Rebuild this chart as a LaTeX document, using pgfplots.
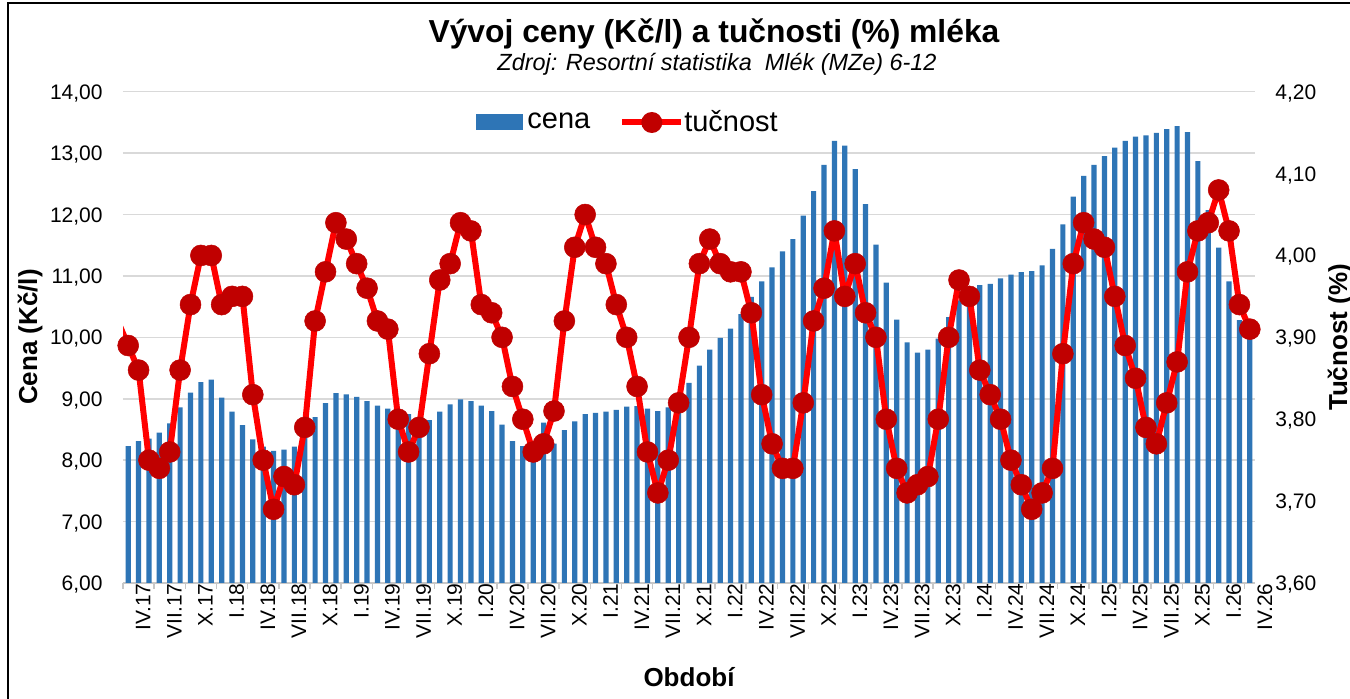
\documentclass[border=0pt]{standalone}
\usepackage{fontspec}
\setmainfont{Liberation Sans}
\usepackage{pgfplots}
\pgfplotsset{compat=1.18}
\usepackage{pgfplotstable}
\newlength\px
\setlength\px{0.5pt}
\definecolor{barblue}{RGB}{46,117,182}
\definecolor{mkred}{RGB}{192,0,0}
\definecolor{lnred}{RGB}{255,0,0}
\definecolor{gridgray}{RGB}{217,217,217}
\definecolor{axgray}{RGB}{200,200,200}

\pgfplotstableread{
x y
1 8.23
2 8.31
3 8.35
4 8.45
5 8.60
6 8.86
7 9.10
8 9.27
9 9.31
10 9.02
11 8.79
12 8.57
13 8.34
14 8.22
15 8.15
16 8.17
17 8.22
18 8.45
19 8.70
20 8.93
21 9.09
22 9.07
23 9.03
24 8.96
25 8.89
26 8.84
27 8.80
28 8.75
29 8.70
30 8.65
31 8.79
32 8.91
33 8.99
34 8.96
35 8.89
36 8.80
37 8.58
38 8.31
39 8.23
40 8.18
41 8.61
42 8.27
43 8.49
44 8.63
45 8.75
46 8.77
47 8.79
48 8.82
49 8.87
50 8.88
51 8.84
52 8.80
53 8.86
54 9.00
55 9.26
56 9.54
57 9.80
58 9.99
59 10.14
60 10.38
61 10.66
62 10.91
63 11.14
64 11.40
65 11.60
66 11.98
67 12.38
68 12.81
69 13.20
70 13.12
71 12.74
72 12.17
73 11.51
74 10.89
75 10.29
76 9.92
77 9.75
78 9.80
79 9.98
80 10.33
81 10.60
82 10.78
83 10.85
84 10.87
85 10.96
86 11.02
87 11.06
88 11.08
89 11.17
90 11.44
91 11.84
92 12.29
93 12.63
94 12.81
95 12.95
96 13.09
97 13.20
98 13.27
99 13.29
100 13.33
101 13.39
102 13.44
103 13.34
104 12.87
105 12.07
106 11.46
107 10.91
108 10.28
109 10.01
}\cena

\pgfplotstableread{
x y
0 3.92
1 3.89
2 3.86
3 3.75
4 3.74
5 3.76
6 3.86
7 3.94
8 4.00
9 4.00
10 3.94
11 3.95
12 3.95
13 3.83
14 3.75
15 3.69
16 3.73
17 3.72
18 3.79
19 3.92
20 3.98
21 4.04
22 4.02
23 3.99
24 3.96
25 3.92
26 3.91
27 3.80
28 3.76
29 3.79
30 3.88
31 3.97
32 3.99
33 4.04
34 4.03
35 3.94
36 3.93
37 3.90
38 3.84
39 3.80
40 3.76
41 3.77
42 3.81
43 3.92
44 4.01
45 4.05
46 4.01
47 3.99
48 3.94
49 3.90
50 3.84
51 3.76
52 3.71
53 3.75
54 3.82
55 3.90
56 3.99
57 4.02
58 3.99
59 3.98
60 3.98
61 3.93
62 3.83
63 3.77
64 3.74
65 3.74
66 3.82
67 3.92
68 3.96
69 4.03
70 3.95
71 3.99
72 3.93
73 3.90
74 3.80
75 3.74
76 3.71
77 3.72
78 3.73
79 3.80
80 3.90
81 3.97
82 3.95
83 3.86
84 3.83
85 3.80
86 3.75
87 3.72
88 3.69
89 3.71
90 3.74
91 3.88
92 3.99
93 4.04
94 4.02
95 4.01
96 3.95
97 3.89
98 3.85
99 3.79
100 3.77
101 3.82
102 3.87
103 3.98
104 4.03
105 4.04
106 4.08
107 4.03
108 3.94
109 3.91
}\tucnost

\begin{document}
\begin{tikzpicture}
\useasboundingbox (0,0) rectangle (1350\px,699\px);
\fill[white] (0,0) rectangle (1350\px,699\px);
\draw[black, line width=1.5\px] (8\px,-10\px) -- (8\px,696\px) -- (1360\px,696\px);

\node[anchor=base, font=\fontsize{15.9}{15.9}\selectfont\bfseries] at (714\px,656\px) {Vývoj ceny (Kč/l) a tučnosti (\%) mléka};
\node[anchor=base, font=\fontsize{11.7}{11.7}\selectfont\itshape] at (717\px,628\px) {Zdroj: Resortní statistika~ Mlék (MZe) 6-12};

\node[rotate=90, anchor=base, font=\fontsize{13}{13}\selectfont\bfseries] at (37\px,362\px) {Cena (Kč/l)};
\node[rotate=90, anchor=base, font=\fontsize{13}{13}\selectfont\bfseries] at (1347\px,361.5\px) {Tučnost (\%)};
\node[anchor=base, font=\fontsize{13}{13}\selectfont\bfseries] at (689\px,12\px) {Období};

\begin{axis}[
  at={(123\px,116\px)}, anchor=south west,
  scale only axis, width=1132\px, height=491.3\px,
  xmin=0.5, xmax=109.5, ymin=6, ymax=14,
  axis x line*=bottom, axis y line*=left,
  x axis line style={draw=axgray, line width=1.5\px, -},
  y axis line style={draw=none},
  ymajorgrids, grid style={gridgray, line width=1.5\px},
  ytick={6,7,8,9,10,11,12,13,14},
  major tick length=0pt,
  tick align=outside,
  minor xtick={0.5,3.5,...,108.5},
  minor tick length=6\px,
  minor x tick style={draw=axgray, line width=1.5\px},
  /pgf/number format/assume math mode=true,
  yticklabel style={anchor=base east, inner sep=0pt, xshift=-20\px, yshift=-7.5\px,
    font=\fontsize{10.5}{10.5}\selectfont,
    /pgf/number format/.cd, fixed, fixed zerofill, precision=2, use comma, 1000 sep={}},
  xtick={1,4,...,109},
  xticklabels={IV.17,VII.17,X.17,I.18,IV.18,VII.18,X.18,I.19,IV.19,VII.19,X.19,I.20,IV.20,VII.20,X.20,I.21,IV.21,VII.21,X.21,I.22,IV.22,VII.22,X.22,I.23,IV.23,VII.23,X.23,I.24,IV.24,VII.24,X.24,I.25,IV.25,VII.25,X.25,I.26,IV.26},
  xticklabel style={rotate=90, anchor=east, inner sep=0pt, yshift=-15\px,
    font=\fontsize{10.5}{10.5}\selectfont},
]
\addplot[ybar, bar width=5.2\px, fill=barblue, draw=none] table[x=x,y=y]{\cena};
\end{axis}

\begin{axis}[
  at={(123\px,116\px)}, anchor=south west,
  scale only axis, width=1132\px, height=491.3\px,
  xmin=0.5, xmax=109.5, ymin=3.6, ymax=4.2,
  axis x line=none, axis y line*=right,
  y axis line style={draw=none},
  ytick={3.6,3.7,3.8,3.9,4.0,4.1,4.2},
  major tick length=0pt,
  /pgf/number format/assume math mode=true,
  yticklabel style={anchor=base west, inner sep=0pt, xshift=20\px, yshift=-7.5\px,
    font=\fontsize{10.5}{10.5}\selectfont,
    /pgf/number format/.cd, fixed, fixed zerofill, precision=2, use comma, 1000 sep={}},
  legend columns=2,
  legend style={at={(0.3115,0.9373)}, anchor=west, draw=none, fill=none,
    inner sep=0pt, outer sep=0pt, column sep=0pt,
    nodes={inner sep=0pt, font=\fontsize{14.5}{14.5}\selectfont}},
  legend cell align=left,
]
\addlegendimage{legend image code/.code={
  \path[draw=none, fill=none] (0,-8\px) rectangle (57\px,8\px);
  \fill[barblue, draw=none] (0,-8\px) rectangle (53\px,8\px);}}
\addlegendentry{cena}
\addplot[lnred, line width=6\px, line join=round, mark=*, mark indices={1,...,109},
  mark size=10.5\px, mark options={fill=mkred, draw=mkred, line width=0.5\px},
  legend image code/.code={
  \path[draw=none, fill=none] (-32\px,0) -- (61\px,0);
  \draw[lnred, line width=6\px] (0,0) -- (59\px,0);
  \fill[mkred, draw=none] (29.5\px,0) circle (10.5\px);}]
  table[x=x,y=y]{\tucnost};
\addlegendentry{tučnost}
\end{axis}
\end{tikzpicture}
\end{document}
